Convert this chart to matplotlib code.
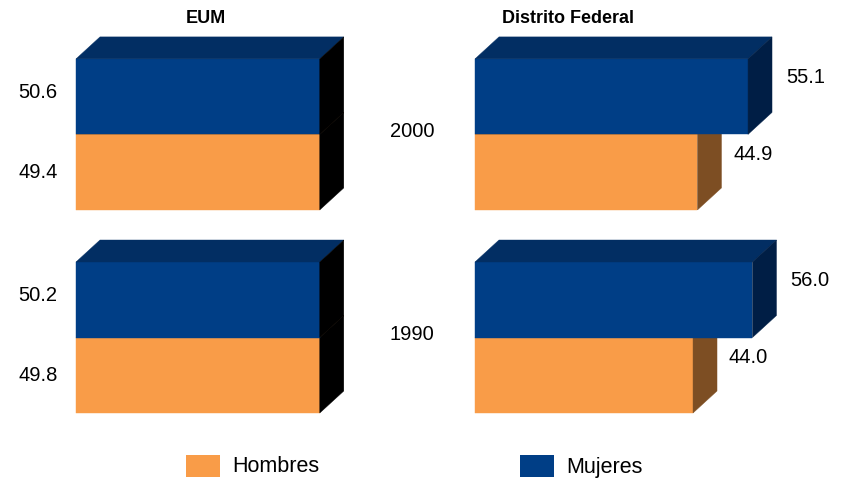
import matplotlib.pyplot as plt
from matplotlib.patches import Polygon, Rectangle

plt.rcParams['font.family'] = ['Liberation Sans', 'DejaVu Sans']

years = ['1990', '2000']
series = ['Hombres', 'Mujeres']
eum_hombres = [49.8, 49.4]
eum_mujeres = [50.2, 50.6]
df_hombres = [44.0, 44.9]
df_mujeres = [56.0, 55.1]

front = {'Hombres': '#F99C48', 'Mujeres': '#003E86'}
top = {'Hombres': '#C8782F', 'Mujeres': '#022E63'}
side_df = {'Hombres': '#7D4E23', 'Mujeres': '#001E45'}
side_eum = {'Hombres': '#000000', 'Mujeres': '#000000'}

W, H = 844, 480
px_per_unit = 4.955          # horizontal scale, pixels per percentage point
bar_px = 75.5                # bar thickness in pixels (1 y-unit)
dx = 24 / px_per_unit        # 3D depth in x units
dy = 22 / bar_px             # 3D depth in y units
group_base = [0.0, 2.69]     # y of each year's lower bar
eum_xmax = 49.2              # left panel axis max (bars clipped there)
df_xmax = 60.0

fig = plt.figure(figsize=(W / 100, H / 100), dpi=100)
y_bot, y_top = 413, 37
ax_h = (y_bot - y_top) / H
ax1 = fig.add_axes([76 / W, 1 - y_bot / H, eum_xmax * px_per_unit / W, ax_h])
ax2 = fig.add_axes([475 / W, 1 - y_bot / H, df_xmax * px_per_unit / W, ax_h])


def bar3d(ax, length, b, key, side):
    faces = [
        ([(0, b), (length, b), (length, b + 1), (0, b + 1)], front[key]),
        ([(0, b + 1), (dx, b + 1 + dy), (length + dx, b + 1 + dy), (length, b + 1)], top[key]),
        ([(length, b), (length + dx, b + dy), (length + dx, b + 1 + dy), (length, b + 1)], side[key]),
    ]
    for pts, c in faces:
        ax.add_patch(Polygon(pts, closed=True, facecolor=c, edgecolor=c,
                             linewidth=0.3, clip_on=False))


for ax, xmax in [(ax1, eum_xmax), (ax2, df_xmax)]:
    ax.set_xlim(0, xmax)
    ax.set_ylim(0, (y_bot - y_top) / bar_px)
    ax.axis('off')

fs = 14.5
for i, yr in enumerate(years):
    b = group_base[i]
    # left panel: EUM
    bar3d(ax1, min(eum_hombres[i], eum_xmax), b, 'Hombres', side_eum)
    bar3d(ax1, min(eum_mujeres[i], eum_xmax), b + 1, 'Mujeres', side_eum)
    ax1.text(-7.7, b + 0.5, f'{eum_hombres[i]:.1f}', ha='center', va='center', fontsize=fs)
    ax1.text(-7.7, b + 1.55, f'{eum_mujeres[i]:.1f}', ha='center', va='center', fontsize=fs)
    # right panel: Distrito Federal
    bar3d(ax2, df_hombres[i], b, 'Hombres', side_df)
    bar3d(ax2, df_mujeres[i], b + 1, 'Mujeres', side_df)
    ax2.text(df_hombres[i] + dx + 2.4, b + 0.74, f'{df_hombres[i]:.1f}',
             ha='left', va='center', fontsize=fs)
    ax2.text(df_mujeres[i] + dx + 2.8, b + 1.76, f'{df_mujeres[i]:.1f}',
             ha='left', va='center', fontsize=fs)
    ax2.text(-12.7, b + 1.04, yr, ha='center', va='center', fontsize=fs)

fig.text(206 / W, 1 - 18.5 / H, 'EUM', ha='center', va='center',
         fontsize=13, fontweight='bold')
fig.text(568 / W, 1 - 18.5 / H, 'Distrito Federal', ha='center', va='center',
         fontsize=13, fontweight='bold')

# legend
for x0, key in [(186, 'Hombres'), (520, 'Mujeres')]:
    fig.add_artist(Rectangle((x0 / W, 1 - 477 / H), 34 / W, 22 / H,
                             transform=fig.transFigure, facecolor=front[key],
                             edgecolor='none'))
    fig.text((x0 + 46) / W, 1 - 467 / H, key, ha='left', va='center', fontsize=15.5)

fig.savefig('out.png', dpi=100)
